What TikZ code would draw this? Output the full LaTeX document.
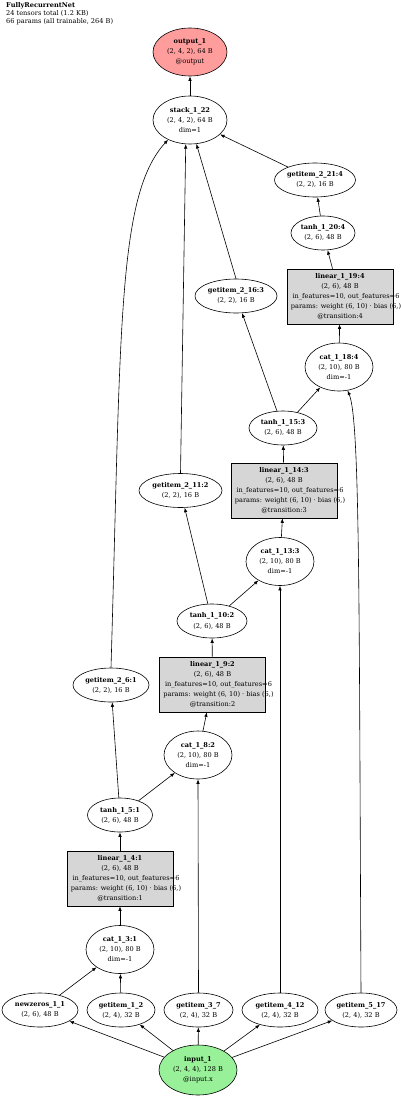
\documentclass[tikz,border=0pt]{standalone}
\usepackage{fontspec}
\setmainfont{DejaVu Serif}
\usetikzlibrary{shapes.geometric,arrows.meta}
\newcommand\nfont{\fontsize{6.6}{10}\selectfont}
\newcommand\hfont{\fontsize{6.6}{7.8}\selectfont}
\newcommand\linlines{\hspace*{12pt}in\_features=10, out\_features=6\\\hspace*{12pt}params: weight (6, 10) · bias (6,)}
\definecolor{outfill}{HTML}{FF9C9C}
\definecolor{infill}{HTML}{98F098}
\definecolor{linfill}{HTML}{D6D6D6}
\tikzset{
  ell/.style={ellipse, draw, line width=0.6pt, inner sep=0pt, minimum width=#1},
  ell/.default=70pt,
  linbox/.style={rectangle, draw, line width=0.6pt, fill=linfill, inner sep=0pt, minimum width=106pt, minimum height=55pt},
  lbl/.style={align=center, inner sep=0pt, font=\nfont},
  edge/.style={draw, line width=0.6pt, -{Latex[length=4.5pt,width=3.5pt]}},
}
\begin{document}
\begin{tikzpicture}[x=1pt,y=-1pt]
\useasboundingbox (0,0) rectangle (400,1097);
\node[anchor=north west, align=left, inner sep=0pt, font=\hfont] (hdr) at (6,2.5)
  {\textbf{FullyRecurrentNet}\\24 tensors total (1.2 KB)\\66 params (all trainable, 264 B)};

% nodes
\node[ell=74pt, minimum height=48pt, fill=outfill, label={[lbl]center:{\textbf{output\_1}\\(2, 4, 2), 64 B\\@output}}] (out) at (190,52) {};
\node[ell=74pt, minimum height=48pt, label={[lbl]center:{\textbf{stack\_1\_22}\\(2, 4, 2), 64 B\\dim=1}}] (stack) at (190,120) {};
\node[ell=81pt, minimum height=34pt, label={[lbl]center:{\textbf{getitem\_2\_21:4}\\(2, 2), 16 B}}] (g221) at (315,180) {};
\node[ell=64pt, minimum height=34pt, label={[lbl]center:{\textbf{tanh\_1\_20:4}\\(2, 6), 48 B}}] (t20) at (323,233) {};
\node[linbox, label={[lbl]center:{\textbf{linear\_1\_19:4}\\(2, 6), 48 B\\\linlines\\@transition:4}}] (l19) at (340,296.5) {};
\node[ell=68pt, minimum height=48pt, label={[lbl]center:{\textbf{cat\_1\_18:4}\\(2, 10), 80 B\\dim=-1}}] (c18) at (339,367) {};
\node[ell=82pt, minimum height=34pt, label={[lbl]center:{\textbf{getitem\_2\_16:3}\\(2, 2), 16 B}}] (g216) at (236,296) {};
\node[ell=68pt, minimum height=34pt, label={[lbl]center:{\textbf{tanh\_1\_15:3}\\(2, 6), 48 B}}] (t15) at (283,428) {};
\node[linbox, label={[lbl]center:{\textbf{linear\_1\_14:3}\\(2, 6), 48 B\\\linlines\\@transition:3}}] (l14) at (284,490.5) {};
\node[ell=83pt, minimum height=34pt, label={[lbl]center:{\textbf{getitem\_2\_11:2}\\(2, 2), 16 B}}] (g211) at (180.5,490.5) {};
\node[ell=68pt, minimum height=48pt, label={[lbl]center:{\textbf{cat\_1\_13:3}\\(2, 10), 80 B\\dim=-1}}] (c13) at (280,561.5) {};
\node[ell=70pt, minimum height=34pt, label={[lbl]center:{\textbf{tanh\_1\_10:2}\\(2, 6), 48 B}}] (t10) at (212,621) {};
\node[linbox, label={[lbl]center:{\textbf{linear\_1\_9:2}\\(2, 6), 48 B\\\linlines\\@transition:2}}] (l9) at (212.5,684.5) {};
\node[ell=76pt, minimum height=34pt, label={[lbl]center:{\textbf{getitem\_2\_6:1}\\(2, 2), 16 B}}] (g26) at (111,685) {};
\node[ell=68pt, minimum height=48pt, label={[lbl]center:{\textbf{cat\_1\_8:2}\\(2, 10), 80 B\\dim=-1}}] (c8) at (198,755) {};
\node[ell=65pt, minimum height=34pt, label={[lbl]center:{\textbf{tanh\_1\_5:1}\\(2, 6), 48 B}}] (t5) at (120,815) {};
\node[linbox, label={[lbl]center:{\textbf{linear\_1\_4:1}\\(2, 6), 48 B\\\linlines\\@transition:1}}] (l4) at (120,878.5) {};
\node[ell=68pt, minimum height=48pt, label={[lbl]center:{\textbf{cat\_1\_3:1}\\(2, 10), 80 B\\dim=-1}}] (c3) at (120,949.5) {};
\node[ell=76pt, minimum height=34pt, label={[lbl]center:{\textbf{newzeros\_1\_1}\\(2, 6), 48 B}}] (nz) at (40,1010) {};
\node[ell=68pt, minimum height=34pt, label={[lbl]center:{\textbf{getitem\_1\_2}\\(2, 4), 32 B}}] (g12) at (121,1010) {};
\node[ell=69pt, minimum height=34pt, label={[lbl]center:{\textbf{getitem\_3\_7}\\(2, 4), 32 B}}] (g37) at (198.5,1010) {};
\node[ell=76pt, minimum height=34pt, label={[lbl]center:{\textbf{getitem\_4\_12}\\(2, 4), 32 B}}] (g412) at (280,1010) {};
\node[ell=72pt, minimum height=34pt, label={[lbl]center:{\textbf{getitem\_5\_17}\\(2, 4), 32 B}}] (g517) at (361,1010) {};
\node[ell=78pt, minimum height=50pt, fill=infill, label={[lbl]center:{\textbf{input\_1}\\(2, 4, 4), 128 B\\@input.x}}] (in) at (198,1070) {};

% edges
\draw[edge] (in) -- (nz);
\draw[edge] (in) -- (g12);
\draw[edge] (in) -- (g37);
\draw[edge] (in) -- (g412);
\draw[edge] (in) -- (g517);
\draw[edge] (nz) -- (c3);
\draw[edge] (g12) -- (c3);
\draw[edge] (c3) -- (l4);
\draw[edge] (l4) -- (t5);
\draw[edge] (t5) -- (g26);
\draw[edge] (t5) -- (c8);
\draw[edge] (g37.north) -- (c8.south);
\draw[edge] (c8) -- (l9);
\draw[edge] (l9) -- (t10);
\draw[edge] (t10) -- (g211);
\draw[edge] (t10) -- (c13);
\draw[edge] (g412.north) -- (c13.south);
\draw[edge] (c13) -- (l14);
\draw[edge] (l14) -- (t15);
\draw[edge] (t15) -- (g216);
\draw[edge] (t15) -- (c18);
\draw[edge] (g517.north) .. controls (359,600) and (360,420) .. (c18.-70);
\draw[edge] (c18) -- (l19);
\draw[edge] (l19) -- (t20);
\draw[edge] (t20) -- (g221);
\draw[edge] (g221) -- (stack);
\draw[edge] (g216.north) -- (stack.-75);
\draw[edge] (g211.north) -- (stack.-100);
\draw[edge] (g26.north) .. controls (121,330) and (117,195) .. (stack.-138);
\draw[edge] (stack) -- (out);
\end{tikzpicture}
\end{document}
